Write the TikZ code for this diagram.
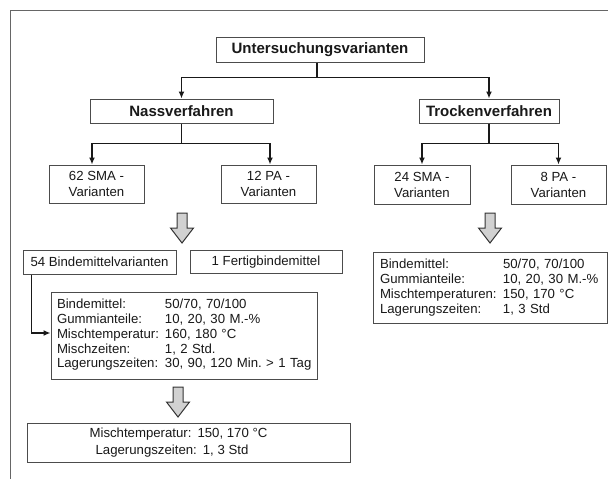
\documentclass[tikz,border=0pt]{standalone}
\usepackage{fontspec}
\setmainfont{Liberation Sans}
\usetikzlibrary{arrows.meta,calc}
\frenchspacing
\begin{document}
\begin{tikzpicture}[x=1pt,y=-1pt,
  box/.style={draw=black!70,line width=1pt,inner sep=0pt,align=center,
    font=\fontsize{13.2}{16}\selectfont,text=black!90},
  head/.style={box,font=\fontsize{15}{18}\selectfont\bfseries},
  listbox/.style={box,align=left,font=\fontsize{13.2}{14.75}\selectfont},
  conn/.style={draw=black!90,line width=1.5pt},
  arr/.style={conn,-{Latex[length=7pt,width=6pt]}},
  bigarrow/.style={draw=black!80,line width=1pt,fill=black!18,line join=miter},
  pics/bigdown/.style={code={\draw[bigarrow] (-5,0) -- (5,0) -- (5,15) -- (11.5,15) -- (0,30) -- (-11.5,15) -- (-5,15) -- cycle;}}]
\useasboundingbox (0,0) rectangle (608,479);
\fill[white] (0,0) rectangle (608,479);
% frame
\draw[draw=black!60,line width=1.2pt] (10.5,479) -- (10.5,10.5) -- (608,10.5);

% nodes
\node[head,minimum width=208,minimum height=25] (root) at (320,49.5) {Untersuchungsvarianten};
\node[head,minimum width=183,minimum height=24] (nass) at (181.5,111) {Nassverfahren};
\node[head,minimum width=140,minimum height=24] (trocken) at (489,111) {Trockenverfahren};
\node[box,minimum width=95,minimum height=38] (sma62) at (96.5,184) {62 SMA -\\Varianten};
\node[box,minimum width=95,minimum height=38] (pa12) at (268.5,184) {12 PA -\\Varianten};
\node[box,minimum width=96,minimum height=39] (sma24) at (422,184.5) {24 SMA -\\Varianten};
\node[box,minimum width=95,minimum height=39] (pa8) at (558.5,184.5) {8 PA -\\Varianten};
\node[box,minimum width=153,minimum height=24] (bind54) at (99.5,262) {54 Bindemittelvarianten};
\node[box,minimum width=152,minimum height=23] (fertig) at (266,262) {1 Fertigbindemittel};
\node[listbox,text width=254pt,inner xsep=6pt,minimum height=87] (bigbox) at (184,335.5)
 {\begin{tabular}{@{}p{108pt}@{}l@{}}
  Bindemittel: & 50/70, 70/100\\
  Gummianteile: & 10, 20, 30 M.-\%\\
  Mischtemperatur: & 160, 180 °C\\
  Mischzeiten: & 1, 2 Std.\\
  Lagerungszeiten: & 30, 90, 120 Min. > 1 Tag
 \end{tabular}};
\node[listbox,text width=220pt,inner xsep=7pt,minimum height=71,font=\fontsize{13.2}{15}\selectfont] (rightbox) at (490,287.5)
 {\begin{tabular}{@{}p{123pt}@{}l@{}}
  Bindemittel: & 50/70, 70/100\\
  Gummianteile: & 10, 20, 30 M.-\%\\
  Mischtemperaturen: & 150, 170 °C\\
  Lagerungszeiten: & 1, 3 Std
 \end{tabular}};
\node[box,minimum width=323,minimum height=39,font=\fontsize{13.2}{17}\selectfont] (bottom) at (188.5,442.5)
 {Mischtemperatur:\hspace{6pt}150, 170 °C\hspace*{20pt}\\Lagerungszeiten:\hspace{6pt}1, 3 Std\hspace*{33pt}};

% connectors
\coordinate (j1) at ($(root.south)+(-3,15)$);
\draw[conn] ([xshift=-3pt]root.south) -- (j1);
\draw[arr] (j1) -| (nass.north);
\draw[arr] (j1) -| (trocken.north);
\coordinate (j2) at ($(nass.south)+(0,20)$);
\draw[conn] (nass.south) -- (j2);
\draw[arr] (j2) -| ([xshift=-4.5pt]sma62.north);
\draw[arr] (j2) -| ([xshift=1.5pt]pa12.north);
\coordinate (j3) at ($(trocken.south)+(0,20)$);
\draw[conn] (trocken.south) -- (j3);
\draw[arr] (j3) -| (sma24.north);
\draw[arr] (j3) -| (pa8.north);
\draw[arr] ([xshift=9pt]bind54.south west) |- ([yshift=2.5pt]bigbox.west);

% hollow arrows
\pic at (182,213) {bigdown};
\pic at (490,213) {bigdown};
\pic at (178,387) {bigdown};
\end{tikzpicture}
\end{document}
